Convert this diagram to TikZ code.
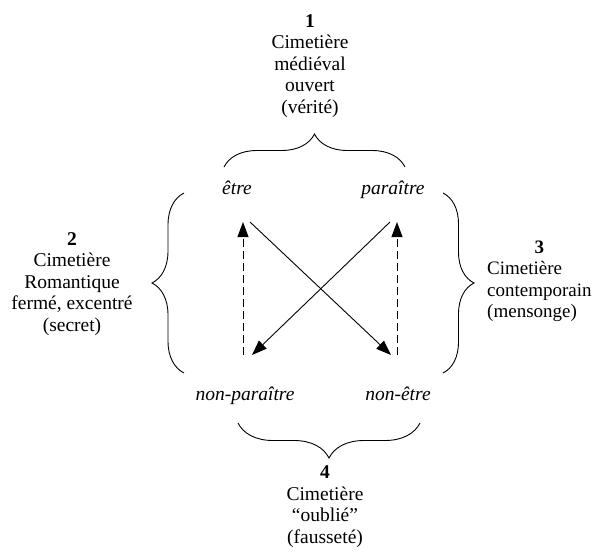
\documentclass[tikz,border=0pt]{standalone}
\usepackage{fontspec}
\setmainfont{Liberation Serif}
\usetikzlibrary{positioning, arrows.meta, decorations.pathreplacing}
\tikzstyle{numbered} =[align=center, inner sep=0pt, anchor=base, font=\fontsize{19.5}{21.5}\selectfont]
\tikzstyle{cornerword} =[inner sep=0pt, anchor=base, font=\fontsize{19.5}{21.5}\selectfont\itshape]
\tikzstyle{curlybrace} =[decorate, decoration={brace, amplitude=33pt}, line width=0.9pt]
\tikzstyle{crossarrow} =[-{Triangle[length=15pt, width=11pt]}, line width=0.9pt]
\tikzstyle{dasharrow} =[crossarrow, dash pattern=on 8pt off 4pt]

\begin{document}
\begin{tikzpicture}[x=1pt, y=-1pt]
\useasboundingbox (0,0) rectangle (594,552);

% the four words of the square
\node (etre) [cornerword] at (237,194) {être};
\node (paraitre) [cornerword] at (393,194) {paraître};
\node (nonParaitre) [cornerword] at (245,400) {non-paraître};
\node (nonEtre) [cornerword] at (398,400) {non-être};

% the four cemeteries (base = last line)
\node (cemOne) [numbered] at (310,113) {\textbf{1}\\Cimetière\\médiéval\\ouvert\\(vérité)};
\node (cemTwo) [numbered] at (72,331) {\textbf{2}\\Cimetière\\Romantique\\fermé, excentré\\(secret)};
\node (cemThree) [numbered, anchor=base west, font=\fontsize{19}{21.5}\selectfont] at (487,253) {\begin{tabular}[t]{@{}l@{}}\multicolumn{1}{@{}c@{}}{\textbf{3}}\\Cimetière\\contemporain\\(mensonge)\end{tabular}};
\node (cemFour) [numbered] at (325,543) {\textbf{4}\\Cimetière\\“oublié”\\(fausseté)};

% ends of the arrows
\coordinate (etreFoot) at (250,222);
\coordinate (paraitreFoot) at (390,222);
\coordinate (nonEtreHead) at (391,355);
\coordinate (nonParaitreHead) at (252,355);
\coordinate (leftLow) at (243,355);
\coordinate (leftHigh) at (243,222);
\coordinate (rightLow) at (397,355);
\coordinate (rightHigh) at (397,222);

\draw[crossarrow] (etreFoot) -- (nonEtreHead);
\draw[crossarrow] (paraitreFoot) -- (nonParaitreHead);
\draw[dasharrow] (leftLow) -- (leftHigh);
\draw[dasharrow] (rightLow) -- (rightHigh);

% braces
\coordinate (topA) at (224,167);
\coordinate (topB) at (405,167);
\coordinate (leftA) at (184,373);
\coordinate (leftB) at (184,193);
\coordinate (rightA) at (443,193);
\coordinate (rightB) at (443,373);
\coordinate (botA) at (420,423);
\coordinate (botB) at (238,423);

\draw[curlybrace] (topA) -- (topB);
\draw[curlybrace, decoration={amplitude=32pt}] (leftA) -- (leftB);
\draw[curlybrace, decoration={amplitude=31pt}] (rightA) -- (rightB);
\draw[curlybrace, decoration={amplitude=35pt}] (botA) -- (botB);
\end{tikzpicture}
\end{document}
